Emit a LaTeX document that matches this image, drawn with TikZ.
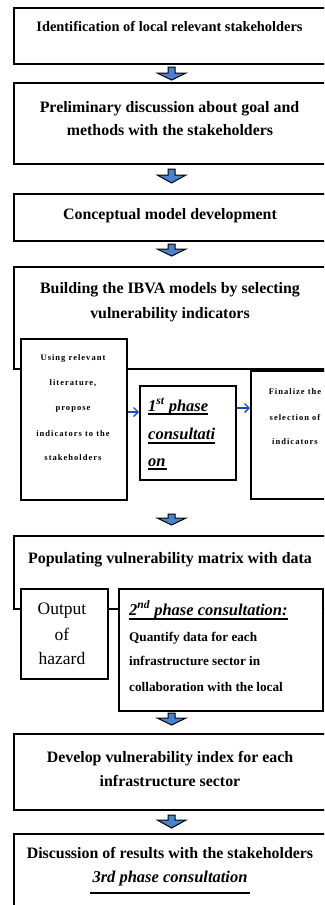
\documentclass[tikz,border=0pt]{standalone}
\usepackage{fontspec}
\setmainfont{Liberation Serif}
\newfontfamily\spacedserif[LetterSpace=12]{Liberation Serif}
\usetikzlibrary{arrows.meta}
\definecolor{arrowblue}{RGB}{74,130,205}
\definecolor{lineblue}{RGB}{30,75,190}
\begin{document}
\begin{tikzpicture}[x=1pt,y=-1pt,
  box/.style={draw=black,line width=2pt,fill=white,inner sep=0pt,anchor=north west},
  ttl/.style={font=\bfseries\fontsize{15.9}{19}\selectfont,inner sep=0pt,anchor=base},
  ttlsmall/.style={font=\bfseries\fontsize{14.4}{17}\selectfont,inner sep=0pt,anchor=base},
  phase/.style={font=\bfseries\itshape\fontsize{16.5}{19}\selectfont,inner sep=0pt,anchor=base west},
  tiny/.style={font=\spacedserif\bfseries\fontsize{8.5}{10}\selectfont,inner sep=0pt,anchor=base},
  quant/.style={font=\bfseries\fontsize{13.2}{16}\selectfont,inner sep=0pt,anchor=base west},
  haz/.style={font=\fontsize{17.5}{20}\selectfont,inner sep=0pt,anchor=base},
  ulline/.style={line width=2pt,black},
  harrow/.style={draw=lineblue,line width=1.3pt,-{Straight Barb[length=4.5pt,width=9pt]}},
  blockstyle/.style={fill=arrowblue,draw=black,line width=1pt,line join=miter},
  pics/blockdown/.style n args={2}{code={
    \draw[blockstyle] (-3.4,0) -- (-3.4,#1) -- (-14.4,#1) -- (0,#2) -- (14.4,#1) -- (3.4,#1) -- (3.4,0) -- cycle;}}
]
\useasboundingbox (0,0) rectangle (324,905);
\clip (0,0) rectangle (324,905);
\fill[white] (0,0) rectangle (324,905);

% main boxes
\node[box,minimum width=320pt,minimum height=56pt] (b1) at (13,7) {};
\node[box,minimum width=320pt,minimum height=81pt] (b2) at (13,82) {};
\node[box,minimum width=320pt,minimum height=47pt] (b3) at (13,193) {};
\node[box,minimum width=320pt,minimum height=102pt] (b4) at (13,266) {};
\node[box,minimum width=320pt,minimum height=73pt] (b5) at (13,535) {};
\node[box,minimum width=320pt,minimum height=76pt] (b6) at (13,733) {};
\node[box,minimum width=320pt,minimum height=100pt] (b7) at (13,833) {};

% sub boxes of b4
\node[box,minimum width=106pt,minimum height=161pt] (b4l) at (20,338) {};
\node[box,minimum width=96pt,minimum height=94pt] (b4m) at (139,385) {};
\node[box,minimum width=90pt,minimum height=128pt] (b4r) at (250,370) {};
% sub boxes of b5
\node[box,minimum width=87pt,minimum height=90pt] (b5l) at (20,588) {};
\node[box,minimum width=204pt,minimum height=122pt] (b5r) at (118,588) {};

% block arrows
\coordinate (a1) at (171.6,67);
\coordinate (a2) at (171.6,169);
\coordinate (a3) at (171.6,244);
\coordinate (a4) at (171.6,514);
\coordinate (a5) at (171.6,713);
\coordinate (a6) at (171.6,815);
\pic at (a1) {blockdown={6}{13}};
\pic at (a2) {blockdown={6}{14}};
\pic at (a3) {blockdown={5}{12}};
\pic at (a4) {blockdown={4}{11}};
\pic at (a5) {blockdown={5}{12}};
\pic at (a6) {blockdown={5}{13}};

% texts
\node[ttlsmall] (t1) at (169.5,31) {Identification of local relevant stakeholders};
\node[ttl] (t2a) at (169.5,112) {Preliminary discussion about goal and};
\node[ttl] (t2b) at (170,135) {methods with the stakeholders};
\node[ttl] (t3) at (170,219) {Conceptual model development};
\node[ttl] (t4a) at (170,293) {Building the IBVA models by selecting};
\node[ttl] (t4b) at (170,318) {vulnerability indicators};

\node[tiny] (l1) at (73,360) {Using relevant};
\node[tiny] (l2) at (73,385) {literature,};
\node[tiny] (l3) at (73,410) {propose};
\node[tiny] (l4) at (73,436) {indicators to the};
\node[tiny] (l5) at (73,460) {stakeholders};

\node[tiny] (r1) at (295,394) {Finalize the};
\node[tiny] (r2) at (295,420) {selection of};
\node[tiny] (r3) at (295,444) {indicators};

\node[phase] (m1) at (148,411) {1\textsuperscript{st} phase};
\node[phase] (m2) at (148,439.5) {consultati};
\node[phase] (m3) at (148,466) {on};
\draw[ulline] ([yshift=-3pt]m1.base west) -- ([yshift=-3pt]m1.base east);
\draw[ulline] ([yshift=-3pt]m2.base west) -- ([yshift=-3pt]m2.base east);
\draw[ulline] ([yshift=-3pt]m3.base west) -- ([yshift=-3pt,xshift=1.5pt]m3.base east);

\draw[harrow] (b4l.east |- 0,412) -- (b4m.west |- 0,412);
\draw[harrow] (b4m.east |- 0,408) -- (b4r.west |- 0,408);

\node[ttl] (t5) at (170,563) {Populating vulnerability matrix with data};
\node[haz] (h1) at (62,614) {Output};
\node[haz] (h2) at (62,640) {of};
\node[haz] (h3) at (62,664) {hazard};

\node[phase] (p2) at (129,615) {2\textsuperscript{nd} phase consultation:};
\draw[ulline] ([yshift=-3.5pt]p2.base west) -- ([yshift=-3.5pt]p2.base east);
\node[quant] (q1) at (129,641) {Quantify data for each};
\node[quant] (q2) at (129,665) {infrastructure sector in};
\node[quant] (q3) at (129,691) {collaboration with the local};

\node[ttl] (t6a) at (170,762) {Develop vulnerability index for each};
\node[ttl] (t6b) at (170,786) {infrastructure sector};

\node[ttl] (t7a) at (170,858) {Discussion of results with the stakeholders};
\node[phase,anchor=base] (t7b) at (170,882) {3rd phase consultation};
\coordinate (u7l) at (90,893);
\coordinate (u7r) at (250,893);
\draw[ulline] (u7l) -- (u7r);
\end{tikzpicture}
\end{document}
